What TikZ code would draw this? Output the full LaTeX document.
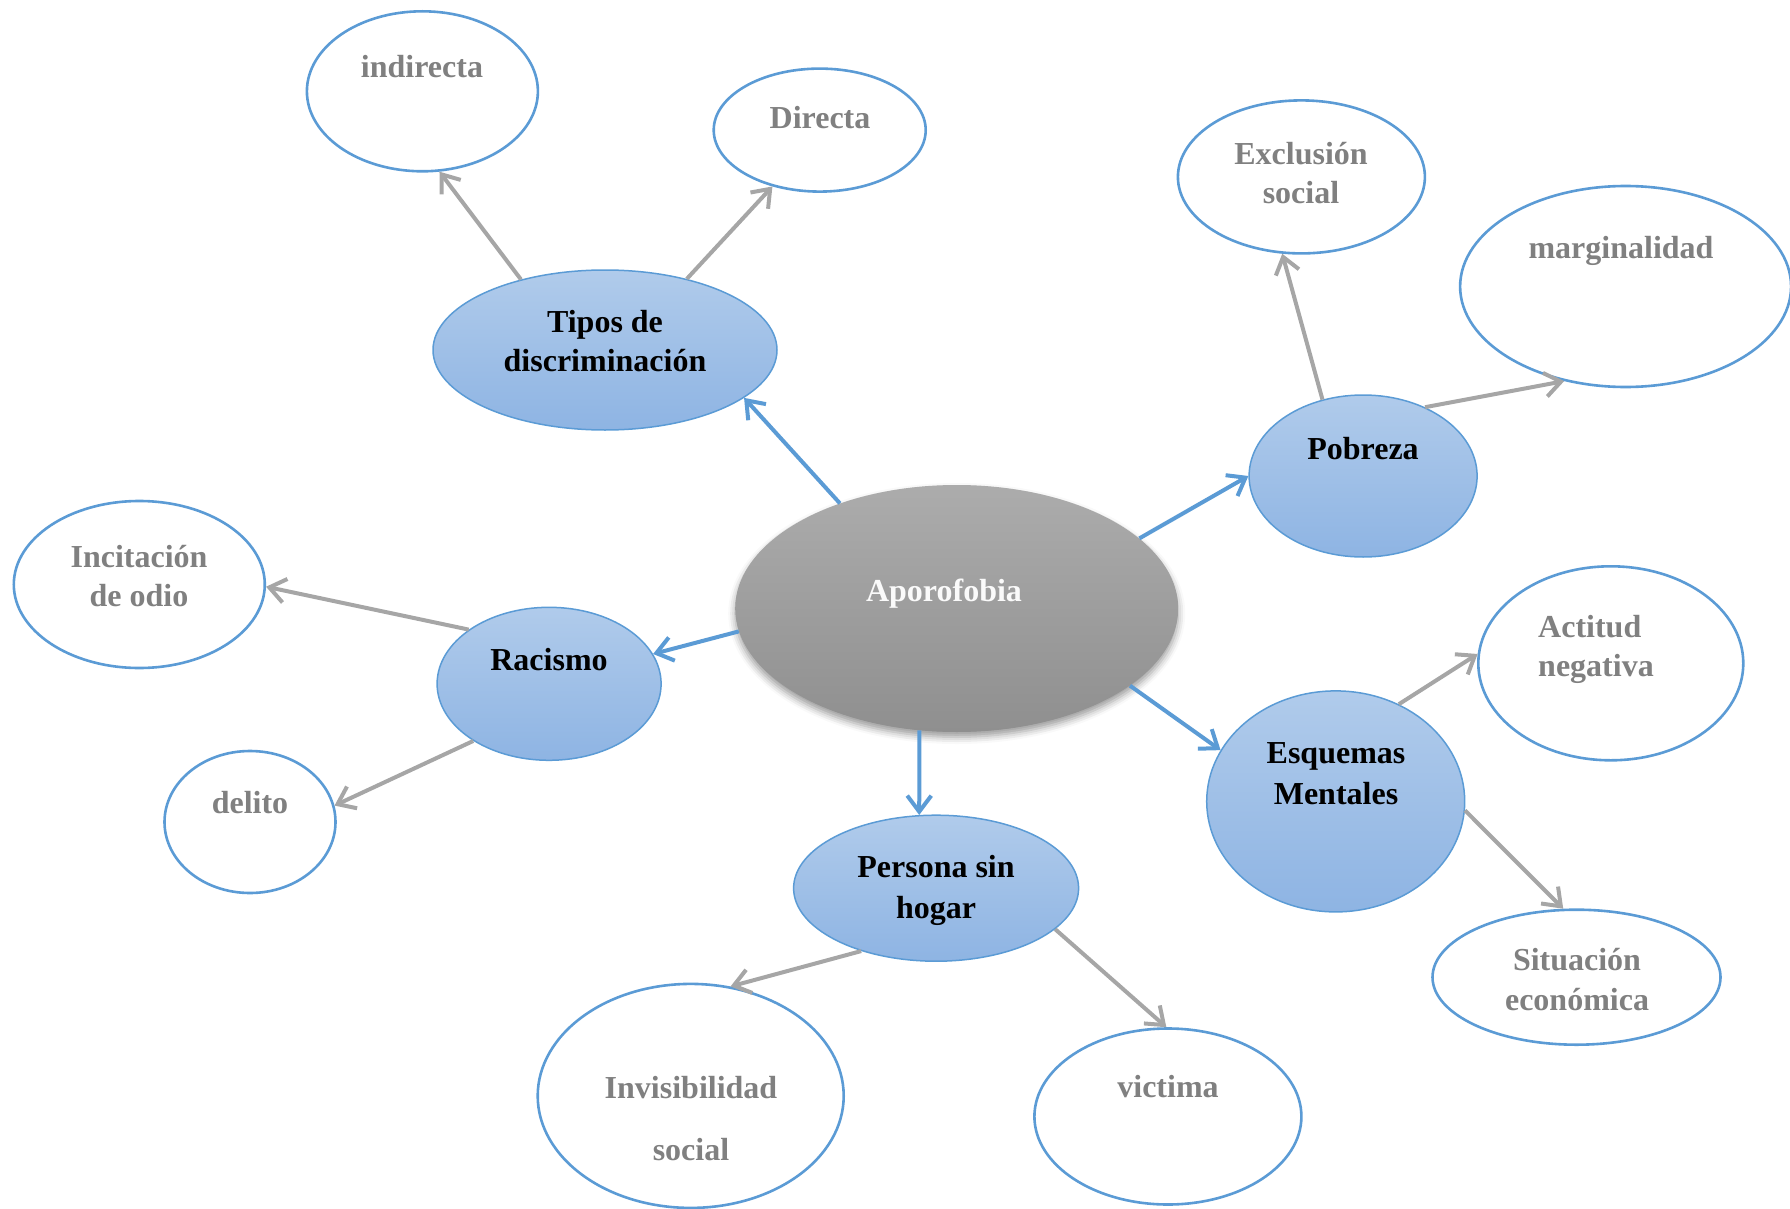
\documentclass[tikz,border=0pt]{standalone}
\usepackage{fontspec}
\setmainfont{Liberation Serif}
\usetikzlibrary{arrows.meta,shapes.geometric,shadows.blur}
\definecolor{oblue}{HTML}{5B9BD5}
\definecolor{btop}{RGB}{176,203,235}
\definecolor{bbot}{RGB}{142,180,227}
\definecolor{gtop}{RGB}{172,172,172}
\definecolor{gbot}{RGB}{143,143,143}
\definecolor{gtext}{RGB}{128,128,128}
\definecolor{garrow}{RGB}{166,166,166}
\begin{document}
\begin{tikzpicture}[x=1pt,y=-1pt,
  bubble/.style={ellipse, inner sep=0pt, draw=oblue, line width=1.5pt, top color=btop, bottom color=bbot},
  leaf/.style={ellipse, inner sep=0pt, draw=oblue, line width=2.6pt, fill=white},
  core/.style={ellipse, inner sep=0pt, top color=gtop, bottom color=gbot,
    blur shadow={shadow xshift=0pt, shadow yshift=-5pt, shadow blur radius=7pt, shadow opacity=40}},
  btxt/.style={font=\fontsize{32}{40}\selectfont\bfseries, text=black, inner sep=0pt},
  gtxt/.style={font=\fontsize{32}{40}\selectfont\bfseries, text=gtext, inner sep=0pt},
  wtxt/.style={font=\fontsize{32}{40}\selectfont\bfseries, text=white!96!gray, inner sep=0pt},
  barrow/.style={draw=oblue, line width=4pt, -{Straight Barb[length=16pt,width=24pt]}},
  garr/.style={draw=garrow, line width=4pt, -{Straight Barb[length=16pt,width=24pt]}}
]
\useasboundingbox (0,0) rectangle (1790,1209);

% ellipses
\node[core, minimum width=443pt, minimum height=247pt] (apor) at (956.7,608.5) {};
\node[bubble, minimum width=344pt, minimum height=160pt] (tipos) at (605,350) {};
\node[leaf, minimum width=231pt, minimum height=160pt] (ind) at (422.4,91.3) {};
\node[leaf, minimum width=212pt, minimum height=123pt] (dir) at (819.7,130.1) {};
\node[bubble, minimum width=228pt, minimum height=162pt] (pob) at (1363.1,476.0) {};
\node[leaf, minimum width=247pt, minimum height=153pt] (exc) at (1301.4,176.9) {};
\node[leaf, minimum width=331pt, minimum height=201pt] (mar) at (1625.6,286.5) {};
\node[bubble, minimum width=224pt, minimum height=153pt] (rac) at (549.1,683.8) {};
\node[leaf, minimum width=251pt, minimum height=167pt] (inc) at (139.3,584.5) {};
\node[leaf, minimum width=171pt, minimum height=142pt] (del) at (250.0,822.0) {};
\node[bubble, minimum width=258pt, minimum height=221pt] (esq) at (1335.7,801.4) {};
\node[leaf, minimum width=265pt, minimum height=194pt] (act) at (1610.8,663.3) {};
\node[leaf, minimum width=288pt, minimum height=135pt] (sit) at (1576.5,977.2) {};
\node[bubble, minimum width=285pt, minimum height=146pt] (per) at (936.1,888.2) {};
\node[leaf, minimum width=306pt, minimum height=224pt] (inv) at (690.7,1095.9) {};
\node[leaf, minimum width=267pt, minimum height=176pt] (vic) at (1167.9,1116.5) {};

% texts
\node[wtxt] (t-apor) at (944,593.5) {Aporofobia};
\node[btxt] (t-tipos1) at (605,324.5) {Tipos de};
\node[btxt] (t-tipos2) at (605,361) {discriminación};
\node[gtxt] (t-ind) at (422,67) {indirecta};
\node[gtxt] (t-dir) at (820,118) {Directa};
\node[btxt] (t-pob) at (1363,449) {Pobreza};
\node[gtxt] (t-exc1) at (1301,154) {Exclusión};
\node[gtxt] (t-exc2) at (1301,193) {social};
\node[gtxt] (t-mar) at (1621,250.5) {marginalidad};
\node[btxt] (t-rac) at (549,660) {Racismo};
\node[gtxt] (t-inc1) at (139,557) {Incitación};
\node[gtxt] (t-inc2) at (139,596) {de odio};
\node[gtxt] (t-del) at (250,803) {delito};
\node[btxt] (t-esq1) at (1336,756.5) {Esquemas};
\node[btxt] (t-esq2) at (1336,794) {Mentales};
\node[gtxt, anchor=west] (t-act1) at (1538,627) {Actitud};
\node[gtxt, anchor=west] (t-act2) at (1538,668.5) {negativa};
\node[gtxt] (t-sit1) at (1577,960) {Situación};
\node[gtxt] (t-sit2) at (1577,1000) {económica};
\node[btxt] (t-per1) at (936,867) {Persona sin};
\node[btxt] (t-per2) at (936,910.5) {hogar};
\node[gtxt] (t-inv1) at (691,1088) {Invisibilidad};
\node[gtxt] (t-inv2) at (691,1150) {social};
\node[gtxt] (t-vic) at (1168,1087) {victima};

% blue connectors
\draw[barrow] (apor.138.7) -- (tipos.-19);
\draw[barrow] (apor.21.2) -- (pob.180);
\draw[barrow] (apor.186.2) -- (rac.16.7);
\draw[barrow] (apor.-24.7) -- (esq.156.2);
\draw[barrow] (apor.-107.7) -- (per.103.6);

% gray connectors
\draw[garr] (tipos.140.7) -- (ind.-78);
\draw[garr] (tipos.41.7) -- (dir.-130.6);
\draw[garr] (pob.118.8) -- (exc.-104.6);
\draw[garr] (pob.48.3) -- (mar.-123.7);
\draw[garr] (rac.146.8) -- (inc.-1.5);
\draw[garr] (rac.217.2) -- (del.11);
\draw[garr] (esq.57) -- (act.176.5);
\draw[garr] (esq.-4.4) -- (sit.101.3);
\draw[garr] (per.220) -- (inv.70.7);
\draw[garr] (per.-19.4) -- (vic.91.4);
\end{tikzpicture}
\end{document}
